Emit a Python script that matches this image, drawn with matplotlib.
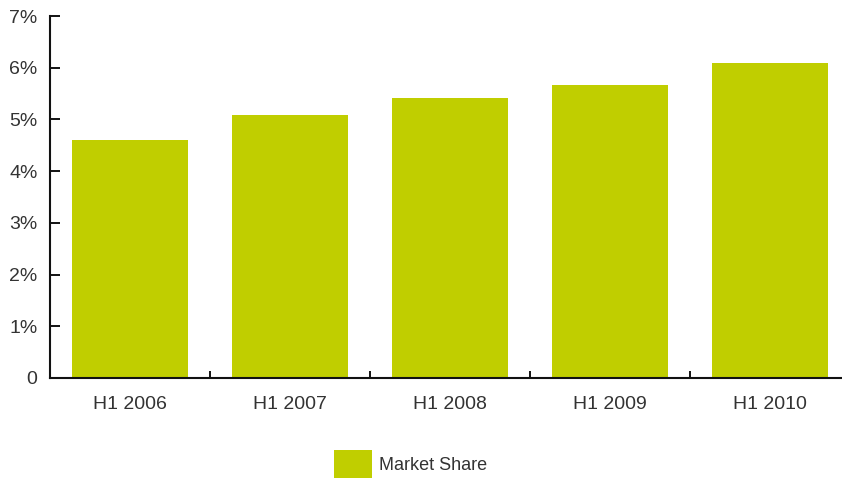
import numpy as np
import matplotlib.pyplot as plt
from matplotlib.ticker import FixedLocator

# data
periods = ["H1 2006", "H1 2007", "H1 2008", "H1 2009", "H1 2010"]
market_share = [4.6, 5.08, 5.41, 5.66, 6.1]
y_ticks = [0, 1, 2, 3, 4, 5, 6, 7]
y_labels = ["0", "1%", "2%", "3%", "4%", "5%", "6%", "7%"]

bar_color = "#c0ce00"
text_color = "#333333"

plt.rcParams["font.family"] = ["Liberation Sans", "DejaVu Sans"]

fig = plt.figure(figsize=(8.42, 4.79), dpi=100)
ax = fig.add_axes([50 / 842, 101 / 479, 800 / 842, 362 / 479])

x = np.arange(len(periods))
ax.bar(x, market_share, width=0.725, color=bar_color, label="Market Share")

ax.set_xlim(-0.5, len(periods) - 0.5)
ax.set_ylim(0, 7)

# y axis
ax.set_yticks(y_ticks)
ax.set_yticklabels(y_labels)
ax.tick_params(axis="y", direction="in", length=7, width=1.3,
               labelsize=14, labelcolor=text_color, pad=9)

# x axis: labels at centers, tick marks between categories
ax.set_xticks(x)
ax.set_xticklabels(periods)
ax.xaxis.set_minor_locator(FixedLocator(x[:-1] + 0.5))
ax.tick_params(axis="x", which="major", length=0, labelsize=14,
               labelcolor=text_color, pad=13)
ax.tick_params(axis="x", which="minor", direction="in", length=5, width=1.3)

for side in ["top", "right"]:
    ax.spines[side].set_visible(False)
for side in ["left", "bottom"]:
    ax.spines[side].set_linewidth(1.5)
    ax.spines[side].set_color("#111111")

fig.legend(loc="center", bbox_to_anchor=(0.488, 0.031), frameon=False,
           fontsize=13, handlelength=2.1, handleheight=2.0,
           handletextpad=0.4, borderpad=0, labelcolor=text_color)

fig.savefig("out.png", dpi=100)
